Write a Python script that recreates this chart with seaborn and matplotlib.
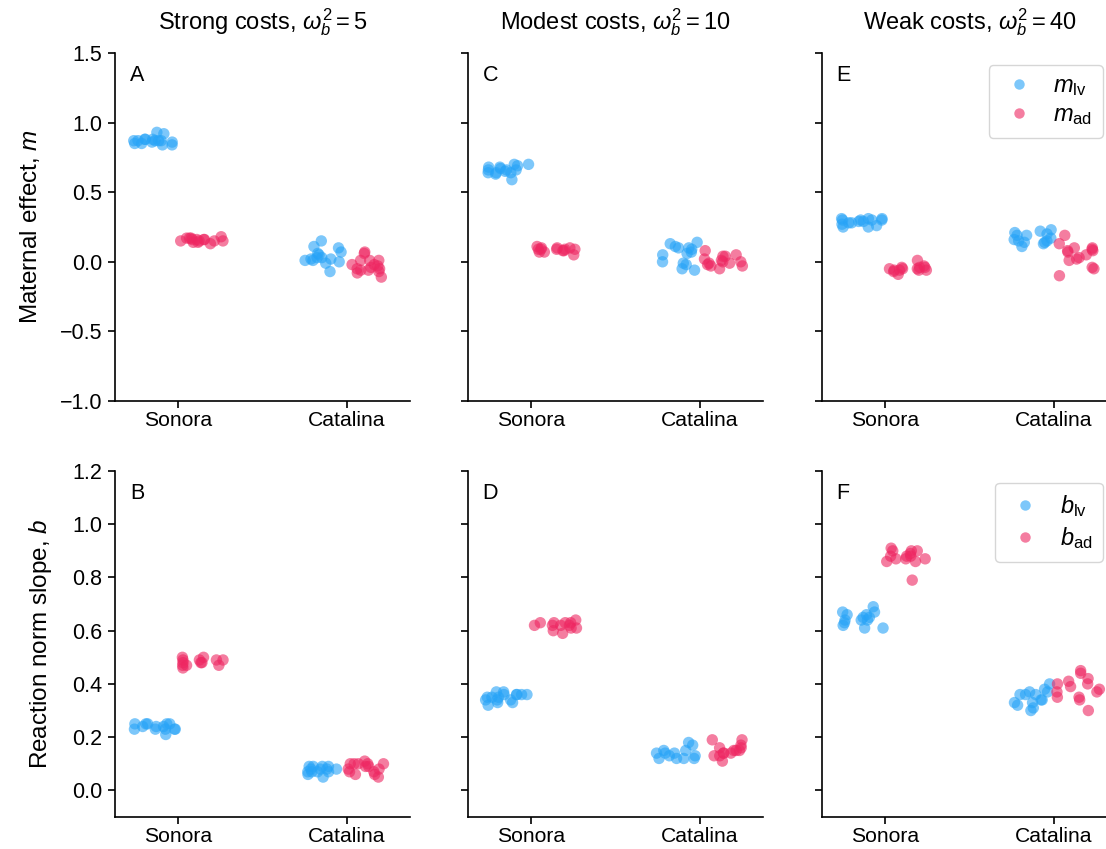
import numpy as np
import pandas as pd
import matplotlib
matplotlib.use("Agg")
import matplotlib.pyplot as plt
import seaborn as sns

# ---------------- data ----------------
populations = ["Sonora", "Catalina"]
traits = ["lv", "ad"]
col_titles = [r"Strong costs, $\omega_b^2 = 5$",
              r"Modest costs, $\omega_b^2 = 10$",
              r"Weak costs, $\omega_b^2 = 40$"]
row_ylabels = [r"Maternal effect, $m$", r"Reaction norm slope, $b$"]
top_letters = ["A", "C", "E"]
bottom_letters = ["B", "D", "F"]
top_legend_labels = [r"$m_{\mathrm{lv}}$", r"$m_{\mathrm{ad}}$"]
bottom_legend_labels = [r"$b_{\mathrm{lv}}$", r"$b_{\mathrm{ad}}$"]
top_yticks = [-1.0, -0.5, 0.0, 0.5, 1.0, 1.5]
bottom_yticks = [0.0, 0.2, 0.4, 0.6, 0.8, 1.0, 1.2]

# Panel A (strong costs, maternal effect m)
m_strong_lv_sonora = [0.93, 0.92, 0.88, 0.87, 0.84, 0.86, 0.87, 0.85, 0.85, 0.86, 0.87, 0.88, 0.87, 0.88, 0.84, 0.87]
m_strong_ad_sonora = [0.15, 0.16, 0.17, 0.14, 0.16, 0.13, 0.15, 0.17, 0.16, 0.15, 0.14, 0.17, 0.16, 0.18, 0.15]
m_strong_lv_catalina = [0.02, 0.07, 0.10, 0.06, 0.01, -0.07, -0.01, 0.03, 0.02, 0.05, 0.03, 0.01, 0.11, 0.15, 0.00]
m_strong_ad_catalina = [-0.02, -0.06, 0.01, -0.06, -0.08, -0.05, -0.04, -0.02, 0.01, 0.06, -0.05, -0.11, -0.07, 0.01, 0.07, -0.03]

# Panel C (modest costs, m)
m_modest_lv_sonora = [0.67, 0.64, 0.68, 0.65, 0.64, 0.64, 0.70, 0.63, 0.66, 0.70, 0.69, 0.66, 0.59, 0.66, 0.68]
m_modest_ad_sonora = [0.10, 0.07, 0.11, 0.09, 0.10, 0.09, 0.09, 0.08, 0.09, 0.08, 0.07, 0.05, 0.10, 0.09]
m_modest_lv_catalina = [0.11, 0.07, 0.06, -0.01, -0.06, -0.05, 0.13, 0.10, 0.05, 0.00, -0.02, 0.10, 0.14, 0.09]
m_modest_ad_catalina = [0.04, 0.08, 0.04, -0.03, 0.05, 0.00, 0.01, -0.03, -0.01, 0.02, 0.00, -0.01, -0.02, -0.05]

# Panel E (weak costs, m)
m_weak_lv_sonora = [0.31, 0.28, 0.30, 0.25, 0.30, 0.28, 0.31, 0.30, 0.29, 0.30, 0.27, 0.25, 0.31, 0.29, 0.26]
m_weak_ad_sonora = [-0.06, -0.09, -0.05, -0.06, -0.04, -0.05, -0.04, -0.06, -0.04, -0.07, 0.01, -0.03, -0.06, -0.05]
m_weak_lv_catalina = [0.22, 0.16, 0.11, 0.19, 0.15, 0.21, 0.20, 0.13, 0.23, 0.14, 0.19, 0.15, 0.14, 0.17]
m_weak_ad_catalina = [0.05, 0.02, 0.07, -0.04, -0.05, 0.13, 0.19, 0.09, 0.08, 0.01, 0.08, 0.10, 0.03, -0.10, 0.10]

# Panel B (strong costs, reaction norm slope b)
b_strong_lv_sonora = [0.24, 0.25, 0.24, 0.23, 0.21, 0.25, 0.23, 0.24, 0.25, 0.23, 0.25, 0.23, 0.25, 0.23]
b_strong_ad_sonora = [0.47, 0.49, 0.48, 0.49, 0.46, 0.48, 0.50, 0.47, 0.49, 0.47, 0.48, 0.50, 0.49]
b_strong_lv_catalina = [0.09, 0.08, 0.05, 0.08, 0.07, 0.07, 0.09, 0.06, 0.09, 0.08, 0.07, 0.08, 0.07, 0.09]
b_strong_ad_catalina = [0.08, 0.07, 0.09, 0.06, 0.05, 0.10, 0.07, 0.08, 0.09, 0.10, 0.10, 0.11, 0.06, 0.10, 0.10]

# Panel D (modest costs, b)
b_modest_lv_sonora = [0.36, 0.34, 0.37, 0.36, 0.33, 0.35, 0.36, 0.34, 0.33, 0.35, 0.36, 0.34, 0.37, 0.36, 0.32, 0.35]
b_modest_ad_sonora = [0.61, 0.64, 0.63, 0.63, 0.62, 0.60, 0.63, 0.63, 0.62, 0.62, 0.61, 0.59, 0.62]
b_modest_lv_catalina = [0.12, 0.14, 0.18, 0.12, 0.12, 0.17, 0.13, 0.15, 0.14, 0.12, 0.13, 0.14, 0.15]
b_modest_ad_catalina = [0.16, 0.15, 0.11, 0.14, 0.13, 0.13, 0.16, 0.14, 0.15, 0.17, 0.19, 0.19, 0.15, 0.14]

# Panel F (weak costs, b)
b_weak_lv_sonora = [0.61, 0.63, 0.69, 0.66, 0.65, 0.64, 0.67, 0.66, 0.64, 0.65, 0.67, 0.61, 0.62, 0.64]
b_weak_ad_sonora = [0.79, 0.86, 0.88, 0.90, 0.87, 0.88, 0.89, 0.90, 0.88, 0.87, 0.91, 0.90, 0.86, 0.87]
b_weak_lv_catalina = [0.32, 0.30, 0.31, 0.38, 0.37, 0.37, 0.36, 0.34, 0.33, 0.36, 0.36, 0.40, 0.34, 0.33]
b_weak_ad_catalina = [0.35, 0.38, 0.35, 0.41, 0.42, 0.37, 0.30, 0.45, 0.40, 0.34, 0.37, 0.39, 0.44, 0.40]

# ---------------- style ----------------
sns.set_style("ticks")
plt.rcParams["font.family"] = ["Liberation Sans", "DejaVu Sans"]
plt.rcParams["mathtext.fontset"] = "custom"
plt.rcParams["mathtext.rm"] = "Liberation Sans"
plt.rcParams["mathtext.it"] = "Liberation Sans:italic"
plt.rcParams["mathtext.bf"] = "Liberation Sans:bold"
plt.rcParams["axes.edgecolor"] = "black"
plt.rcParams["axes.linewidth"] = 1.2
plt.rcParams["xtick.color"] = "black"
plt.rcParams["ytick.color"] = "black"
plt.rcParams["text.color"] = "black"
plt.rcParams["axes.labelcolor"] = "black"

palette = {"lv": "#26a3f7", "ad": "#ee2661"}
hue_shift = {"lv": -0.14, "ad": 0.14}
pop_index = {p: i for i, p in enumerate(populations)}


def panel_frame(lv_son, ad_son, lv_cat, ad_cat):
    parts = []
    for pop, trait, vals in [("Sonora", "lv", lv_son), ("Sonora", "ad", ad_son),
                             ("Catalina", "lv", lv_cat), ("Catalina", "ad", ad_cat)]:
        parts.append(pd.DataFrame({"population": pop, "trait": trait, "value": vals}))
    df = pd.concat(parts, ignore_index=True)
    df["pos"] = df["population"].map(pop_index) + df["trait"].map(hue_shift)
    return df


top_frames = [
    panel_frame(m_strong_lv_sonora, m_strong_ad_sonora, m_strong_lv_catalina, m_strong_ad_catalina),
    panel_frame(m_modest_lv_sonora, m_modest_ad_sonora, m_modest_lv_catalina, m_modest_ad_catalina),
    panel_frame(m_weak_lv_sonora, m_weak_ad_sonora, m_weak_lv_catalina, m_weak_ad_catalina),
]
bottom_frames = [
    panel_frame(b_strong_lv_sonora, b_strong_ad_sonora, b_strong_lv_catalina, b_strong_ad_catalina),
    panel_frame(b_modest_lv_sonora, b_modest_ad_sonora, b_modest_lv_catalina, b_modest_ad_catalina),
    panel_frame(b_weak_lv_sonora, b_weak_ad_sonora, b_weak_lv_catalina, b_weak_ad_catalina),
]

W, H = 1106, 849
fig = plt.figure(figsize=(W / 100, H / 100), dpi=100)
col_left = [115, 468, 822]
ax_w = 295
rows = [(401, 348), (817, 346)]  # bottom pixel, height

np.random.seed(3)
for r in range(2):
    frames = top_frames if r == 0 else bottom_frames
    letters = top_letters if r == 0 else bottom_letters
    yticks = top_yticks if r == 0 else bottom_yticks
    ylim = (-1.0, 1.5) if r == 0 else (-0.1, 1.2)
    leg_labels = top_legend_labels if r == 0 else bottom_legend_labels
    bpix, hpix = rows[r]
    for c in range(3):
        ax = fig.add_axes([col_left[c] / W, (H - bpix) / H, ax_w / W, hpix / H])
        sns.stripplot(data=frames[c], x="pos", y="value", hue="trait",
                      hue_order=traits, palette=palette, native_scale=True,
                      orient="x", jitter=0.47, size=8.2, alpha=0.6,
                      linewidth=0, ax=ax, legend=(c == 2))
        ax.set_xlim(-0.375, 1.375)
        ax.set_ylim(*ylim)
        ax.set_xticks([0, 1])
        ax.set_xticklabels(populations, fontsize=15.2)
        ax.set_yticks(yticks)
        if c == 0:
            ax.set_yticklabels([f"{t:.1f}".replace("-", "\u2212") for t in yticks], fontsize=15.5)
            ax.set_ylabel(row_ylabels[r], fontsize=17.5, labelpad=13)
        else:
            ax.set_yticklabels([])
            ax.set_ylabel("")
        ax.set_xlabel("")
        ax.tick_params(axis="both", length=5, width=1.2, direction="out")
        ax.tick_params(axis="x", pad=2.5)
        ax.tick_params(axis="y", pad=4)
        sns.despine(ax=ax)
        ax.text(0.05, 0.965, letters[c], transform=ax.transAxes,
                ha="left", va="top", fontsize=15.5)
        if r == 0:
            ax.set_title(col_titles[c], fontsize=17, pad=17)
        if c == 2:
            handles, _ = ax.get_legend_handles_labels()
            for h in handles:
                h.set_markersize(7.5)
            leg = ax.legend(handles, leg_labels, loc="upper right",
                            bbox_to_anchor=(0.953, 0.966), borderaxespad=0,
                            fontsize=17, frameon=True, handletextpad=0.66,
                            borderpad=0.45, labelspacing=0.25, handlelength=1.64)
            leg.get_frame().set_edgecolor("#cccccc")
            leg.get_frame().set_linewidth(1.0)

fig.savefig("out.png", dpi=100)
